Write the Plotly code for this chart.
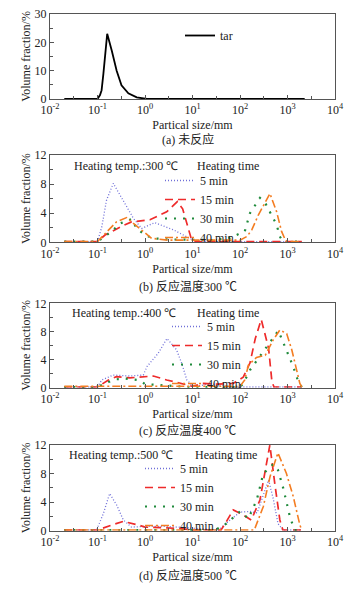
import plotly.graph_objects as go

# ---------------- data ----------------
x_tick_exps = [-2, -1, 0, 1, 2, 3, 4]
x_minor_exps = [-1.5, -0.5, 0.5, 1.5, 2.5, 3.5]

tar_size = [0.02, 0.1, 0.113, 0.122, 0.133, 0.146, 0.16, 0.2, 0.253, 0.32, 0.446, 0.67, 1.1, 2300]
tar_frac = [0, 0, 1.4, 3.1, 8.9, 17, 23, 17, 10, 4.8, 2.0, 0.6, 0, 0]

b5_size = [0.02, 0.1, 0.123, 0.155, 0.215, 0.38, 0.57, 0.85, 1.6, 4.0, 7.6, 11, 30, 2000]
b5_frac = [0.1, 0.1, 2.1, 5.8, 8.1, 5.4, 3.3, 1.9, 2.7, 1.7, 0.7, 0.2, 0.1, 0.1]
b15_size = [0.02, 0.1, 0.144, 0.30, 0.52, 1.27, 2.86, 4.8, 6.2, 9.6, 12, 2000]
b15_frac = [0.1, 0.1, 1.0, 2.1, 2.8, 3.1, 4.2, 5.6, 4.6, 0.3, 0.1, 0.1]
b30_size = [0.02, 0.1, 0.2, 0.3, 0.52, 0.67, 1.0, 1.5, 3, 10, 27, 61, 85, 126, 162, 263, 340, 590, 690, 800, 2000]
b30_frac = [0.1, 0.1, 1.5, 2.6, 3.2, 1.9, 1.0, 0.55, 0.4, 0.3, 0.3, 0.6, 1.0, 1.5, 4.0, 6.1, 5.4, 2.4, 0.8, 0.1, 0.1]
b40_size = [0.02, 0.1, 0.25, 0.41, 0.57, 1.38, 3, 10, 50, 100, 140, 177, 243, 340, 427, 590, 750, 890, 1000, 2000]
b40_frac = [0.1, 0.1, 2.8, 3.4, 2.6, 0.55, 0.3, 0.3, 0.2, 0.3, 0.8, 1.7, 3.75, 5.4, 6.7, 4.2, 1.5, 0.4, 0.1, 0.1]

c5_size = [0.02, 0.1, 0.123, 0.215, 0.48, 0.92, 1.1, 1.9, 2.9, 4.6, 5.9, 7.6, 10, 15, 22, 40, 70, 2000]
c5_frac = [0.1, 0.1, 1.1, 1.8, 1.66, 1.8, 3.0, 4.9, 7.0, 5.4, 3.5, 1.1, 0.3, 0.3, 0.6, 0.3, 0.1, 0.1]
c15_size = [0.02, 0.1, 0.17, 0.25, 0.48, 1.5, 2.86, 5.5, 10, 17, 30, 72, 117, 162, 210, 280, 400, 470, 520, 2000]
c15_frac = [0.1, 0.1, 1.1, 1.56, 1.4, 1.66, 1.1, 0.6, 0.2, 0.6, 0.5, 0.6, 1.5, 3.5, 7.0, 9.7, 5.6, 0.85, 0.1, 0.1]
c30_size = [0.02, 0.1, 0.17, 0.25, 0.38, 0.67, 0.85, 1.0, 3, 8, 100, 117, 162, 243, 400, 640, 890, 1320, 1690, 2000]
c30_frac = [0.1, 0.1, 0.8, 1.2, 1.3, 1.1, 0.85, 0.5, 0.3, 0.1, 0.1, 0.6, 2.5, 4.2, 6.3, 8.1, 5.8, 3.0, 0.85, 0.1]
c40_size = [0.02, 100, 126, 150, 222, 340, 500, 690, 960, 1230, 1820, 2000]
c40_frac = [0.2, 0.2, 1.1, 3.2, 4.3, 4.6, 6.8, 8.2, 7.7, 5.4, 0.6, 0.1]

d5_size = [0.02, 0.096, 0.133, 0.18, 0.253, 0.35, 0.52, 1, 3, 10, 35, 62, 100, 162, 230, 310, 400, 500, 630, 800, 2000]
d5_frac = [0.1, 0.1, 2.4, 5.2, 3.6, 1.5, 0.5, 0.6, 0.6, 0.4, 0.1, 1.5, 2.6, 2.7, 2.5, 5.0, 7.1, 4.5, 1.0, 0.1, 0.1]
d15_size = [0.02, 0.1, 0.2, 0.35, 0.72, 1.0, 2.86, 5.5, 10, 40, 52, 72, 117, 173, 263, 330, 425, 540, 690, 800, 2000]
d15_frac = [0.1, 0.1, 0.8, 1.3, 0.8, 0.5, 0.4, 0.3, 0.1, 0.1, 1.3, 2.9, 2.2, 1.5, 4.3, 8.0, 12.0, 6.6, 1.5, 0.1, 0.1]
d30_size = [0.02, 30, 52, 100, 150, 225, 310, 500, 630, 810, 1120, 1400, 2000]
d30_frac = [0.1, 0.1, 1.0, 2.7, 1.7, 4.3, 8.0, 9.3, 8.5, 6.0, 2.0, 0.1, 0.1]
d40_size = [0.02, 200, 310, 430, 630, 950, 1320, 1820, 2000]
d40_frac = [0.1, 0.1, 3.4, 7.6, 10.9, 8.0, 4.8, 0.8, 0.1]

time_labels = ["5 min", "15 min", "30 min", "40 min"]
temps = ["300", "400", "500"]
captions = ["(a) 未反应", "(b) 反应温度300 ℃", "(c) 反应温度400 ℃", "(d) 反应温度500 ℃"]

# ---------------- layout helpers ----------------
# the page body has an 8px margin, so the figure is drawn 8px in from the window corner
OFF = 8
W, H = 358 - OFF, 592 - OFF
def fx(px):
    return (px - OFF) / W
def fy(py):
    return 1 - (py - OFF) / H

SERIF = "Liberation Serif, Times New Roman, serif"
CJK = "Liberation Serif, Noto Sans CJK SC, serif"

styles = [
    dict(color="#6f6fd8", width=1.3, dash="1px,2px"),
    dict(color="#ee2b2b", width=1.7, dash="8px,5px"),
    dict(color="#1f8a3b", width=2.2, dash="2px,7px"),
    dict(color="#f47d22", width=1.6, dash="8px,3px,2px,3px"),
]

panels = [
    dict(top=14, bottom=99, ymax=30, dtick=10, minor=[5, 15, 25]),
    dict(top=155, bottom=242.3, ymax=12, dtick=4, minor=[2, 6, 10]),
    dict(top=303.3, bottom=387.7, ymax=12, dtick=4, minor=[2, 6, 10]),
    dict(top=445, bottom=530.7, ymax=12, dtick=4, minor=[2, 6, 10]),
]

fig = go.Figure()

# panel a
fig.add_trace(go.Scatter(x=tar_size, y=tar_frac, mode="lines", name="tar",
                         line=dict(color="black", width=1.8), xaxis="x", yaxis="y",
                         legend="legend", showlegend=True))

series = [
    [(b5_size, b5_frac), (b15_size, b15_frac), (b30_size, b30_frac), (b40_size, b40_frac)],
    [(c5_size, c5_frac), (c15_size, c15_frac), (c30_size, c30_frac), (c40_size, c40_frac)],
    [(d5_size, d5_frac), (d15_size, d15_frac), (d30_size, d30_frac), (d40_size, d40_frac)],
]
for pi, group in enumerate(series):
    ax = pi + 2
    for si, (xs, ys) in enumerate(group):
        fig.add_trace(go.Scatter(x=xs, y=ys, mode="lines", name=time_labels[si],
                                 line=styles[si], xaxis=f"x{ax}", yaxis=f"y{ax}",
                                 legend=f"legend{ax}", showlegend=True))

ticktext = [f"10<sup>{e}</sup>" for e in x_tick_exps]
tickvals = [10 ** e for e in x_tick_exps]
minorvals = [10 ** e for e in x_minor_exps]

layout = dict(width=W, height=H, autosize=False,
              margin=dict(l=0, r=0, t=0, b=0, autoexpand=False),
              paper_bgcolor="white", plot_bgcolor="white",
              font=dict(family=SERIF, size=12, color="#222"))
annotations = []
for i, p in enumerate(panels):
    sfx = "" if i == 0 else str(i + 1)
    layout["xaxis" + sfx] = dict(
        type="log", range=[-2, 4], domain=[fx(50), fx(335)],
        anchor="y" + sfx, tickvals=tickvals, ticktext=ticktext, automargin=False,
        ticklabeloverflow="allow",
        ticks="inside", ticklen=4, tickcolor="#555",
        minor=dict(tickvals=minorvals, ticks="inside", ticklen=3, tickcolor="#555"),
        showline=True, mirror=True, linecolor="#555", linewidth=1,
        showgrid=False, zeroline=False,
        tickfont=dict(family=SERIF, size=12, color="#222"),
        title=dict(text="Partical size/mm", font=dict(family=SERIF, size=12, color="#222"), standoff=4),
    )
    layout["yaxis" + sfx] = dict(
        range=[0, p["ymax"]], dtick=p["dtick"], domain=[fy(p["bottom"]), fy(p["top"])],
        anchor="x" + sfx, ticks="inside", ticklen=4, tickcolor="#555", automargin=False,
        ticklabeloverflow="allow",
        minor=dict(tickvals=p["minor"], ticks="inside", ticklen=3, tickcolor="#555"),
        showline=True, mirror=True, linecolor="#555", linewidth=1,
        showgrid=False, zeroline=False,
        tickfont=dict(family=SERIF, size=12, color="#222"),
        title=dict(text="Volume fraction/%", font=dict(family=SERIF, size=12, color="#222"), standoff=1),
    )

# captions
cap_y = [139, 286, 430, 575]
for cap, cy in zip(captions, cap_y):
    annotations.append(dict(text=cap, x=fx(188), y=fy(cy), xref="paper", yref="paper",
                            showarrow=False, xanchor="center", yanchor="middle",
                            font=dict(family=CJK, size=12, color="#222")))

# heating annotations
heat_y = [166, 312.7, 455]
heat_x = [72, 70, 67]
time_x = [195, 195, 193]
for t, hy, hx, tx in zip(temps, heat_y, heat_x, time_x):
    annotations.append(dict(text=f"Heating temp.:{t} ℃", x=fx(hx), y=fy(hy), xref="paper", yref="paper",
                            showarrow=False, xanchor="left", yanchor="middle",
                            font=dict(family=SERIF, size=12, color="#222")))
    annotations.append(dict(text="Heating time", x=fx(tx), y=fy(hy), xref="paper", yref="paper",
                            showarrow=False, xanchor="left", yanchor="middle",
                            font=dict(family=SERIF, size=12, color="#222")))
layout["annotations"] = annotations

leg_common = dict(bgcolor="rgba(0,0,0,0)", borderwidth=0, itemwidth=30,
                  font=dict(family=SERIF, size=12, color="#222"),
                  xanchor="left", yanchor="top", tracegroupgap=0)
layout["legend"] = dict(x=fx(180), y=fy(21), **leg_common)
layout["legend2"] = dict(x=fx(160), y=fy(166), **leg_common)
layout["legend3"] = dict(x=fx(167), y=fy(312), **leg_common)
layout["legend4"] = dict(x=fx(140), y=fy(454), **leg_common)

fig.update_layout(**layout)
fig.write_html("out.html")
